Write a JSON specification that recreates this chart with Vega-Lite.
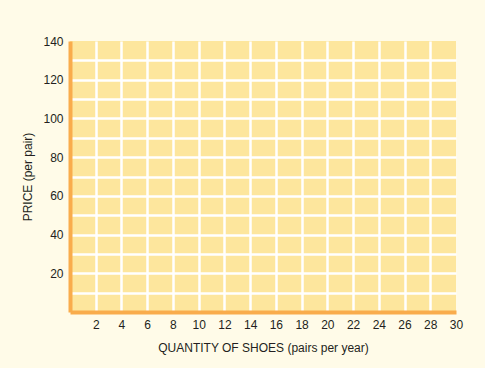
{
  "$schema": "https://vega.github.io/schema/vega-lite/v6.json",
  "width": 386,
  "height": 271,
  "autosize": {"type": "none"},
  "padding": {"left": 70, "top": 41, "right": 29, "bottom": 56},
  "background": "#FFFBE8",
  "view": {"fill": "#FDE69D", "stroke": null},
  "config": {
    "font": "Liberation Sans",
    "axis": {
      "labelFont": "Liberation Sans",
      "titleFont": "Liberation Sans",
      "labelFontSize": 12,
      "titleFontSize": 12,
      "titleFontWeight": "normal",
      "labelColor": "#231F20",
      "titleColor": "#231F20",
      "domainColor": "#F9AC4C",
      "domainWidth": 4,
      "ticks": false,
      "labelFlush": false,
      "gridColor": "#FFFFFF",
      "gridWidth": 2.5
    }
  },
  "data": {"values": []},
  "mark": {"type": "point", "opacity": 0},
  "encoding": {
    "x": {
      "field": "quantity",
      "type": "quantitative",
      "scale": {"domain": [0, 30], "nice": false, "zero": true},
      "axis": {
        "title": "QUANTITY OF SHOES (pairs per year)",
        "values": [2, 4, 6, 8, 10, 12, 14, 16, 18, 20, 22, 24, 26, 28, 30],
        "labelPadding": 7,
        "titlePadding": 12,
        "gridOpacity": {"condition": {"test": "datum.value == 30", "value": 0}, "value": 1}
      }
    },
    "y": {
      "field": "price",
      "type": "quantitative",
      "scale": {"domain": [0, 140], "nice": false, "zero": true},
      "axis": {
        "title": "PRICE (per pair)",
        "values": [10, 20, 30, 40, 50, 60, 70, 80, 90, 100, 110, 120, 130, 140],
        "labelExpr": "datum.value % 20 == 0 ? datum.label : ''",
        "labelPadding": 7,
        "titlePadding": 8,
        "gridOpacity": {"condition": {"test": "datum.value == 140", "value": 0}, "value": 1}
      }
    }
  }
}
